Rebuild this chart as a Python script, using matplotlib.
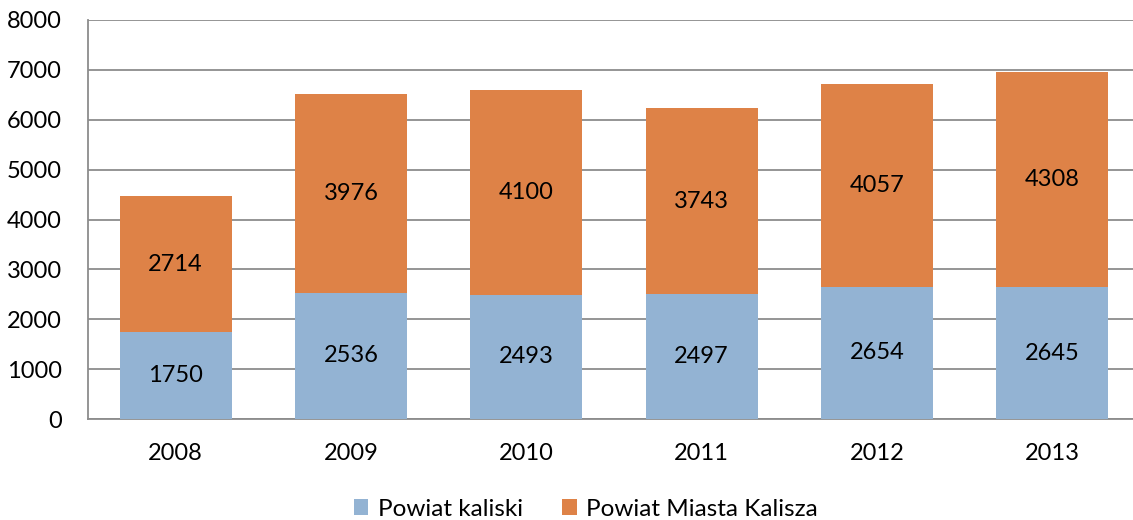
import matplotlib
matplotlib.use("Agg")
import matplotlib.pyplot as plt
import numpy as np

plt.rcParams['font.family'] = ['Lato', 'DejaVu Sans']

years = ["2008", "2009", "2010", "2011", "2012", "2013"]
powiat_kaliski = [1750, 2536, 2493, 2497, 2654, 2645]
powiat_miasta = [2714, 3976, 4100, 3743, 4057, 4308]

blue = "#93B3D3"
orange = "#DE8247"
fs = 17

fig = plt.figure(figsize=(11.33, 5.2), dpi=100)
ax = fig.add_axes([88 / 1133, 101 / 520, 1052 / 1133, 399 / 520])

x = np.arange(len(years))
width = 0.64
b1 = ax.bar(x, powiat_kaliski, width, color=blue, label="Powiat kaliski", zorder=3)
b2 = ax.bar(x, powiat_miasta, width, bottom=powiat_kaliski, color=orange,
            label="Powiat Miasta Kalisza", zorder=3)

# data labels in the middle of each segment
for bars, vals, bottoms in [(b1, powiat_kaliski, [0] * 6), (b2, powiat_miasta, powiat_kaliski)]:
    for rect, v, b in zip(bars, vals, bottoms):
        ax.text(rect.get_x() + rect.get_width() / 2, b + v / 2, str(v),
                ha="center", va="center", fontsize=fs, color="black", zorder=4)

ax.set_xlim(-0.5, len(years) - 0.5)
ax.set_ylim(0, 8000)
ax.set_yticks(range(0, 8001, 1000))
ax.set_xticks(x)
ax.set_xticklabels(years)
ax.tick_params(axis="both", length=0, labelsize=fs, colors="black")
ax.tick_params(axis="y", pad=19)
ax.tick_params(axis="x", pad=17)
ax.grid(axis="y", color="#8c8c8c", linewidth=1.3, zorder=0)

for s in ["top", "right"]:
    ax.spines[s].set_visible(False)
for s in ["left", "bottom"]:
    ax.spines[s].set_color("#8c8c8c")
    ax.spines[s].set_linewidth(1.3)

fig.legend(loc="center", bbox_to_anchor=(586 / 1133, 11 / 520), ncol=2, frameon=False,
           fontsize=17.5, handlelength=0.6, handleheight=0.6, handletextpad=0.4,
           columnspacing=1.6)

fig.savefig("out.png", dpi=100)
